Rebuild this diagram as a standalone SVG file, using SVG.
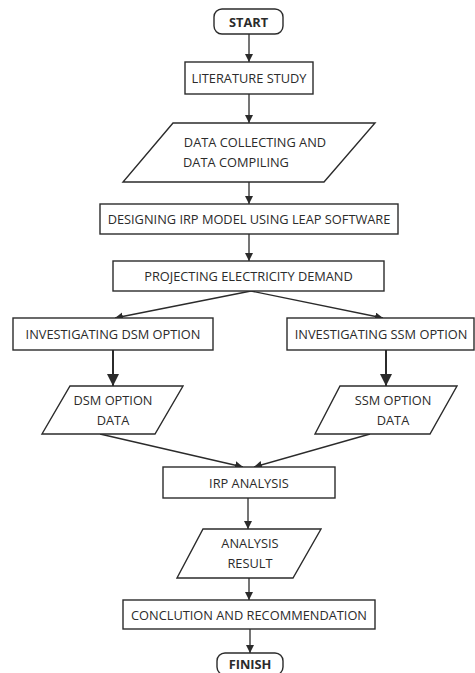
<svg xmlns="http://www.w3.org/2000/svg" width="475" height="673" viewBox="0 0 475 673">
<style>
.box{fill:#fff;stroke:#2b2b2b;stroke-width:1.4}
.t{font-family:"Open Sans","Liberation Sans",sans-serif;font-size:12.8px;fill:#2b2b2b;text-anchor:middle;dominant-baseline:central}
.b{font-weight:bold}
.c{fill:none;stroke:#2b2b2b;stroke-width:1.3}
.ct{fill:none;stroke:#2b2b2b;stroke-width:2}
</style>
<defs>
<marker id="ah" markerUnits="userSpaceOnUse" markerWidth="10" markerHeight="10" refX="8" refY="4" orient="auto"><path d="M0,0 L8,4 L0,8 Z" fill="#2b2b2b"/></marker>
<marker id="ahb" markerUnits="userSpaceOnUse" markerWidth="14" markerHeight="14" refX="12" refY="6" orient="auto"><path d="M0,0 L12,6 L0,12 Z" fill="#2b2b2b"/></marker>
</defs>
<g id="connectors">
<line class="c" x1="249" y1="34" x2="249" y2="62" marker-end="url(#ah)"/>
<line class="c" x1="249" y1="94" x2="249" y2="123" marker-end="url(#ah)"/>
<line class="c" x1="249" y1="182" x2="249" y2="204" marker-end="url(#ah)"/>
<line class="c" x1="249" y1="234" x2="249" y2="261" marker-end="url(#ah)"/>
<line class="c" x1="251" y1="291" x2="115" y2="318" marker-end="url(#ah)"/>
<line class="c" x1="251" y1="291" x2="383" y2="318" marker-end="url(#ah)"/>
<line class="ct" x1="113" y1="350" x2="113" y2="386" marker-end="url(#ahb)"/>
<line class="ct" x1="386" y1="350" x2="386" y2="386" marker-end="url(#ahb)"/>
<line class="c" x1="100" y1="434" x2="243" y2="467" marker-end="url(#ah)"/>
<line class="c" x1="370" y1="434" x2="254" y2="467" marker-end="url(#ah)"/>
<line class="c" x1="248" y1="498" x2="248" y2="529" marker-end="url(#ah)"/>
<line class="c" x1="249" y1="578" x2="249" y2="600" marker-end="url(#ah)"/>
<line class="c" x1="250" y1="629" x2="250" y2="653" marker-end="url(#ah)"/>
</g>
<g id="start"><rect class="box" x="214" y="9" width="69" height="25" rx="8"/><text class="t b" x="248.5" y="21.5">START</text></g>
<g id="literature"><rect class="box" x="185" y="62" width="128" height="32"/><text class="t" x="249" y="78">LITERATURE STUDY</text></g>
<g id="data"><polygon class="box" points="173,123 375,123 324,182 123,182"/><text class="t" x="255" y="142">DATA COLLECTING AND</text><text class="t" x="236" y="162">DATA COMPILING</text></g>
<g id="designing"><rect class="box" x="100" y="204" width="298" height="30"/><text class="t" x="249" y="219">DESIGNING IRP MODEL USING LEAP SOFTWARE</text></g>
<g id="projecting"><rect class="box" x="113" y="261" width="271" height="30"/><text class="t" x="248.5" y="276">PROJECTING ELECTRICITY DEMAND</text></g>
<g id="dsm"><rect class="box" x="13" y="318" width="200" height="32"/><text class="t" x="113" y="334">INVESTIGATING DSM OPTION</text></g>
<g id="ssm"><rect class="box" x="287" y="318" width="187" height="32"/><text class="t" x="381" y="334">INVESTIGATING SSM OPTION</text></g>
<g id="dsmdata"><polygon class="box" points="70,386 183,386 155,434 42,434"/><text class="t" x="113" y="400">DSM OPTION</text><text class="t" x="113" y="420">DATA</text></g>
<g id="ssmdata"><polygon class="box" points="340,386 457,386 430,434 315,434"/><text class="t" x="393" y="400">SSM OPTION</text><text class="t" x="393" y="420">DATA</text></g>
<g id="irp"><rect class="box" x="163" y="467" width="172" height="31"/><text class="t" x="249" y="482.5">IRP ANALYSIS</text></g>
<g id="result"><polygon class="box" points="203,529 321,529 293,578 177,578"/><text class="t" x="250" y="543">ANALYSIS</text><text class="t" x="250" y="563">RESULT</text></g>
<g id="conclusion"><rect class="box" x="123" y="600" width="252" height="29"/><text class="t" x="249" y="614.5">CONCLUTION AND RECOMMENDATION</text></g>
<g id="finish"><rect class="box" x="217" y="653" width="66" height="22" rx="8"/><text class="t b" x="250" y="664">FINISH</text></g>
</svg>
